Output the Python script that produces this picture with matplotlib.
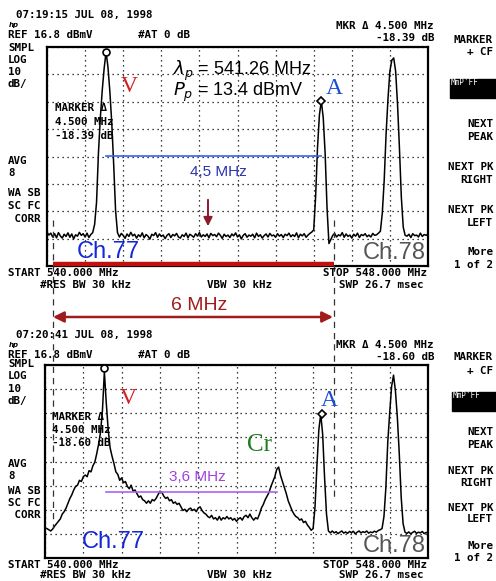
"""Two spectrum-analyzer screens (Ch.77 / Ch.78) with hand annotations."""
import numpy as np
import matplotlib
matplotlib.use("Agg")
import matplotlib.pyplot as plt
from matplotlib.patches import FancyArrowPatch, Rectangle
from matplotlib.lines import Line2D

W, H = 496, 581  # output size in pixels

# ── instrument settings ───────────────────────────────────────────────────────
START_MHZ = 540.0
STOP_MHZ = 548.0
REF_DBMV = 16.8
DB_PER_DIV = 10
N_YDIV = 8
N_XDIV = 10
STEP_MHZ = 0.04          # trace sample spacing (201 points)

# ── traces (dBmV) ──────────────────────────────────────
TOP_LEVEL = [
    # floor 540.00 .. 540.96
    -50.8, -51.9, -51.2, -52.6, -51.4, -52.9, -51.0, -52.2, -53.0, -51.6,
    -52.4, -51.1, -52.7, -51.5, -53.3, -51.8, -52.3, -50.9, -52.0, -51.4,
    -52.6, -51.2, -52.8, -51.7, -51.0,
    # video carrier ch.77
    -48.0, -40.0, -22.0, -9.0, 1.0, 9.0, 15.0, 9.5, 0.5, -11.0, -26.0, -43.0, -51.0,
    # floor
    -52.6, -51.3, -52.0, -53.1, -51.5, -52.4, -50.9, -52.2, -51.6, -53.0,
    -51.8, -52.5, -51.1, -52.9, -51.7, -52.3, -53.4, -51.6, -52.1, -51.0,
    -52.7, -51.5, -52.4, -51.9, -53.2, -52.0, -51.4, -52.8, -51.7, -52.2,
    -51.3, -52.6, -53.0, -51.8, -52.4, -51.2, -52.9, -51.6, -52.1, -52.7,
    -51.4, -52.3, -51.0, -52.6, -51.8, -52.4, -51.5, -52.9, -51.3, -52.1,
    -51.7, -52.5, -51.2, -52.0, -53.1, -51.6, -52.4, -51.9, -52.8, -51.5,
    -52.2, -51.1, -52.6, -51.8, -53.3, -52.0, -51.4, -52.7, -51.9, -52.3,
    -51.6, -52.9, -51.2, -52.4, -51.8, -53.0, -52.1, -51.5, -52.6, -51.3,
    -52.2, -51.9, -52.7, -51.4, -52.3, -51.7, -52.8, -51.6, -52.1, -51.2,
    -52.5, -51.8, -52.4, -51.1, -52.9, -51.6, -52.2, -51.4, -52.7, -51.9,
    -51.3, -50.8,
    # audio carrier ch.77
    -50.0, -38.0, -20.0, -8.0, -2.9, -9.0, -22.0, -42.0, -55.0, -53.5,
    # floor
    -52.0, -51.3, -52.6, -51.8, -52.2, -51.0, -52.7, -51.5, -52.4, -51.9,
    -53.0, -51.6, -52.3, -51.2, -52.8, -51.7, -52.1, -51.4, -52.5, -51.9,
    -52.6, -51.3, -52.0, -51.8, -51.2,
    # video carrier ch.78
    -50.5, -44.0, -32.0, -15.0, -2.0, 8.0, 12.0, 12.8, 8.0, -4.0, -20.0, -38.0, -49.0, -52.0,
    # floor
    -52.3, -51.6, -52.8, -51.4, -52.1, -51.9, -52.6, -51.2, -52.4, -51.7, -52.0, -51.5,
]

BOTTOM_LEVEL = [
    -50.8, -51.0, -51.5, -52.0, -51.2, -50.0, -49.0, -48.0, -47.0, -45.0,
    -44.0, -42.5, -40.5, -38.5, -37.0, -35.0, -33.5, -33.0, -31.0, -31.5,
    -29.5, -28.8, -29.5, -27.0, -27.5, -25.0, -23.5, -20.0, -16.0, -11.0,
    -2.0, 14.0, 1.0, -10.0, -17.5, -21.0, -24.0, -27.5, -28.5, -31.0,
    -30.0, -32.0, -31.5, -33.5, -34.5, -33.0, -35.5, -35.0, -36.5, -38.0,
    -37.5, -39.0, -39.5, -40.5, -39.5, -40.5, -39.0, -39.5, -38.5, -37.0,
    -35.5, -35.9, -37.5, -38.5, -38.0, -39.5, -39.0, -40.5, -40.0, -41.0,
    -40.5, -42.0, -43.5, -43.0, -44.0, -43.0, -42.5, -43.5, -43.0, -44.0,
    -42.5, -42.0, -43.5, -44.5, -45.0, -46.0, -46.5, -45.5, -47.0, -46.5,
    -47.5, -46.0, -47.5, -46.5, -47.0, -46.0, -47.0, -46.5, -47.5, -46.8,
    -48.0, -47.0, -46.5, -47.5, -46.0, -45.5, -46.5, -45.0, -46.5, -47.5,
    -46.5, -47.0, -45.0, -42.5, -41.0, -39.0, -37.5, -36.0, -33.5, -31.5,
    -29.5, -26.5, -25.5, -29.0, -31.5, -34.0, -36.5, -39.5, -41.5, -43.5,
    -45.0, -46.0, -46.5, -47.5, -47.0, -48.5, -48.0, -49.5, -50.5, -51.7,
    # audio carrier ch.77
    -51.0, -42.0, -25.0, -10.0, -3.5, -12.0, -30.0, -45.0, -52.0, -52.8,
    # floor
    -52.0, -52.8, -52.3, -53.1, -52.5, -52.0, -52.9, -52.4, -53.0, -52.2,
    -52.7, -52.1, -53.2, -52.5, -52.0, -52.8, -52.3, -52.6, -52.0, -52.9,
    -52.4, -52.7, -52.1, -52.5, -51.8, -51.5,
    # video carrier ch.78
    -51.0, -46.0, -34.0, -15.0, -3.0, 8.0, 12.6, 6.0, -5.0, -20.0, -38.0, -49.0, -52.5,
    # floor
    -53.0, -52.4, -53.2, -52.6, -52.1, -53.0, -52.5, -52.8, -52.2, -53.1, -52.6, -52.9,
]

# marker readouts (MHz, dBmV)
TOP_MARKERS = [(541.24, 15.0, "o"), (545.76, -2.9, "D")]
BOT_MARKERS = [(541.23, 15.4, "o"), (545.78, -3.5, "D")]

# spans drawn by hand (MHz, dBmV)
SPAN_45 = (541.24, 545.76, -23.0)   # "4,5 MHz"
SPAN_36 = (541.27, 544.84, -35.9)   # "3,6 MHz"

freq = START_MHZ + STEP_MHZ * np.arange(len(TOP_LEVEL))

fig = plt.figure(figsize=(W / 100, H / 100), dpi=100)
fig.patch.set_facecolor("white")

MONO_PT = 7.8
MONO = dict(family="DejaVu Sans Mono", fontsize=MONO_PT, color="black", weight="bold")


def fx(x):
    return x / W


def fy(y):
    return 1 - y / H


def put(x, y, s, ha="left", **kw):
    opts = dict(MONO)
    opts.update(kw)
    fig.text(fx(x), fy(y), s, ha=ha, va="center", **opts)


def put_lines(x, y_first, y_last, lines, ha="left"):
    # one text object per stacked label; line pitch set from the pixel step
    step = (y_last - y_first) / (len(lines) - 1)
    asc = 0.76 * MONO_PT * 100 / 72
    fig.text(fx(x), fy((y_first + y_last) / 2), "\n".join(lines), ha=ha, va="center",
             multialignment=ha, linespacing=step / asc, **MONO)


def screen(rect, level, markers):
    ax = fig.add_axes(rect)
    ax.set_xlim(START_MHZ, STOP_MHZ)
    bottom = REF_DBMV - DB_PER_DIV * N_YDIV
    ax.set_ylim(bottom, REF_DBMV)
    ax.set_xticks(np.linspace(START_MHZ, STOP_MHZ, N_XDIV + 1))
    ax.set_yticks(np.linspace(bottom, REF_DBMV, N_YDIV + 1))
    ax.tick_params(length=0, labelbottom=False, labelleft=False)
    ax.grid(True, color="black", linestyle=(0, (1, 3)), linewidth=0.9)
    for sp in ax.spines.values():
        sp.set_linewidth(1.6)
    ax.plot(freq, level, color="black", linewidth=1.1)
    for mx, my, mk in markers:
        ax.plot(mx, my, marker=mk, ms=5 if mk == "o" else 4.5, mfc="white",
                mec="black", mew=1.2, clip_on=False, zorder=5)
    return ax


def header(stamp, y_time, y_ref, y_mkr, mkr_db):
    put(16, y_time, stamp)
    put(9, y_time + 10, "hp", fontsize=5, style="italic", family="DejaVu Sans")
    put(8, y_ref, "REF 16.8 dBmV")
    put(138, y_ref, "#AT 0 dB")
    put_lines(434, y_mkr, y_mkr + 10.5, ["MKR Δ 4.500 MHz", f"{mkr_db} dB"], ha="right")


def side_labels(ys):
    put_lines(8, ys[0], ys[1], ["SMPL", "LOG", "10", "dB/"])
    put_lines(8, ys[2], ys[3], ["AVG", "8"])
    put_lines(8, ys[4], ys[5], ["WA SB", "SC FC", " CORR"])


def softkeys(ys, box):
    groups = [["MARKER", "+ CF"], ["NEXT", "PEAK"], ["NEXT PK", "RIGHT"],
              ["NEXT PK", "LEFT"], ["More", "1 of 2"]]
    for g, (y0, y1) in zip(groups, ys):
        put_lines(493, y0, y1, g, ha="right")
    x0, y0, y1 = box
    fig.add_artist(Rectangle((fx(x0), fy(y1)), fx(W) - fx(x0), fy(y0) - fy(y1),
                             transform=fig.transFigure, color="black"))
    put(x0 + 1, y0 + 4, "MmP'FF", fontsize=5.5, color="white", weight="normal")


def footer(y1, y2):
    put(8, y1, "START 540.000 MHz")
    put(427, y1, "STOP 548.000 MHz", ha="right")
    put(40, y2, "#RES BW 30 kHz")
    put(207, y2, "VBW 30 kHz")
    put(339, y2, "SWP 26.7 msec")


def marker_block(x, y0, y1, db):
    put_lines(x, y0, y1, ["MARKER Δ", "4.500 MHz", f"{db} dB"])


# ── top screen ───────────────────────────────────────────────────────────────
ax1 = screen([fx(47), fy(266), 381 / W, 219 / H], TOP_LEVEL, TOP_MARKERS)
header("07:19:15 JUL 08, 1998", 15, 35, 27, "-18.39")
side_labels([51, 81, 162, 172, 195, 217])
softkeys([(41, 51), (125, 136), (168, 179), (211, 222), (253, 264)], (450, 79, 98))
footer(273, 285)
marker_block(55, 110, 134, "-18.39")

# ── bottom screen ────────────────────────────────────────────────────────────
ax2 = screen([fx(45), fy(558), 383 / W, 193 / H], BOTTOM_LEVEL, BOT_MARKERS)
header("07:20:41 JUL 08, 1998", 335, 355, 346, "-18.60")
side_labels([367, 398, 465, 475, 493, 513])
softkeys([(358, 370), (433, 444), (472, 482), (509, 518), (547, 557)], (452, 392, 411))
footer(565, 575)
marker_block(52, 419, 441, "-18.60")

# ── hand annotations ─────────────────────────────────────────────────────────
serif = "Liberation Serif"
sans = "Liberation Sans"
fig.text(fx(129), fy(86), "V", color="#d42020", fontsize=17, family=serif, ha="center", va="center")
fig.text(fx(334), fy(88), "A", color="#1a4fd0", fontsize=17, family=serif, ha="center", va="center")
fig.text(fx(128), fy(399), "V", color="#d42020", fontsize=17, family=serif, ha="center", va="center")
fig.text(fx(329), fy(400), "A", color="#1a4fd0", fontsize=17, family=serif, ha="center", va="center")
fig.text(fx(260), fy(445), "Cr", color="#1e7a1e", fontsize=18, family=serif, ha="center", va="center")

fig.text(fx(173), fy(75), r"$\lambda_p$ = 541.26 MHz", fontsize=13, family=sans, va="baseline")
fig.text(fx(173), fy(96), r"$P_p$ = 13.4 dBmV", fontsize=13, family=sans, va="baseline")

ax1.plot(SPAN_45[:2], [SPAN_45[2]] * 2, color="#3366ee", linewidth=1.2)
fig.text(fx(218), fy(172), "4,5 MHz", color="#2a33b0", fontsize=11, family=sans, ha="center", va="center")
ax2.plot(SPAN_36[:2], [SPAN_36[2]] * 2, color="#b060f0", linewidth=1.2)
fig.text(fx(197), fy(477), "3,6 MHz", color="#a040e0", fontsize=11, family=sans, ha="center", va="center")

fig.add_artist(FancyArrowPatch((fx(208), fy(197)), (fx(208), fy(229)), transform=fig.transFigure,
                               arrowstyle="-|>", mutation_scale=13, color="#8b1a2a", linewidth=1.4))

fig.text(fx(108), fy(252), "Ch.77", color="#1428d8", fontsize=17, family=sans, ha="center", va="center")
fig.text(fx(394), fy(253), "Ch.78", color="#555555", fontsize=17, family=sans, ha="center", va="center")
fig.text(fx(113), fy(542), "Ch.77", color="#1428d8", fontsize=17, family=sans, ha="center", va="center")
fig.text(fx(394), fy(546), "Ch.78", color="#555555", fontsize=17, family=sans, ha="center", va="center")

# channel boundary: red bar, dashed verticals, 6 MHz arrow
fig.add_artist(Line2D([fx(52.5), fx(333.5)], [fy(264), fy(264)], transform=fig.transFigure,
                      color="#c01010", linewidth=3.2, solid_capstyle="butt"))
fig.add_artist(Line2D([fx(52.5)] * 2, [fy(220), fy(528)], transform=fig.transFigure,
                      color="#333333", linewidth=0.9, linestyle=(0, (5, 4))))
fig.add_artist(Line2D([fx(333.5)] * 2, [fy(220), fy(498)], transform=fig.transFigure,
                      color="#333333", linewidth=0.9, linestyle=(0, (5, 4))))
fig.add_artist(FancyArrowPatch((fx(53), fy(317)), (fx(333), fy(317)), transform=fig.transFigure,
                               arrowstyle="<|-|>", mutation_scale=16, color="#a01c1c",
                               linewidth=1.8, shrinkA=0, shrinkB=0))
fig.text(fx(199), fy(305), "6 MHz", color="#a01c1c", fontsize=14, family=sans, ha="center", va="center")

fig.savefig("out.png", dpi=100)
